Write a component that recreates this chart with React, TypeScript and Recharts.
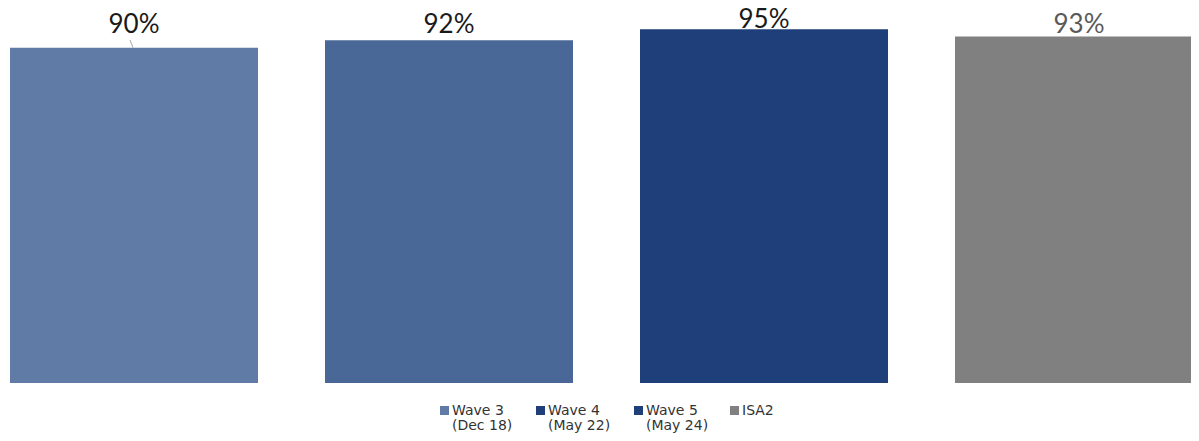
import React from "react";
import { BarChart, Bar, XAxis, YAxis, Legend, LabelList } from "recharts";

const seriesKeys = ["w3", "w4", "w5", "isa2"];
const seriesNames = ["Wave 3\n(Dec 18)", "Wave 4\n(May 22)", "Wave 5\n(May 24)", "ISA2"];
const seriesValues = [90, 92, 95, 93];
const barColors = ["#607ba6", "#4a6897", "#1e3f79", "#808080"];
const legendColors = ["#607ba6", "#1e3f79", "#1e3f79", "#808080"];
const labelColors = ["#1a1a1a", "#1a1a1a", "#1a1a1a", "#595959"];

const row: Record<string, number | string> = { name: "All" };
seriesKeys.forEach((k, i) => {
  row[k] = seriesValues[i];
});
const data = [row];

const makeLabel = (idx: number) => (props: any) => {
  const { x, y, width, value } = props;
  const cx = x + width / 2;
  const baseline = Math.min(y - 1, 25);
  const showLeader = y - baseline > 10;
  return (
    <g>
      {showLeader && (
        <line x1={cx - 4} y1={baseline + 7} x2={cx - 1} y2={y} stroke="#a6a6a6" strokeWidth={1} />
      )}
      <text
        x={cx}
        y={baseline}
        textAnchor="middle"
        fill={labelColors[idx]}
        fontSize={26}
        fontFamily="'Lato', 'DejaVu Sans', sans-serif"
        fontWeight={400}
      >
        {`${value}%`}
      </text>
    </g>
  );
};

const itemWidths = [96, 98, 96, 44];

const renderLegend = () => (
  <div style={{ height: 0, overflow: "visible" }}>
    <div
      style={{
        display: "flex",
        justifyContent: "center",
        paddingLeft: 4,
        fontFamily: "'DejaVu Sans', sans-serif",
        fontSize: 14,
        color: "#333",
        lineHeight: "15px",
      }}
    >
      {seriesNames.map((n, i) => (
        <div key={i} style={{ display: "flex", alignItems: "flex-start", width: itemWidths[i] }}>
          <div
            style={{
              width: 9,
              height: 9,
              background: legendColors[i],
              marginTop: 3,
              marginRight: 3,
              flex: "none",
            }}
          />
          <div style={{ whiteSpace: "pre" }}>{n}</div>
        </div>
      ))}
    </div>
  </div>
);

export default function App() {
  return (
    <div style={{ width: 1196, height: 433, overflow: "visible" }}>
      <BarChart
        width={1196}
        height={433}
        data={data}
        margin={{ top: 2.5, right: 1, bottom: 58, left: 1 }}
        barCategoryGap={0}
        barGap={67}
      >
        <XAxis dataKey="name" hide />
        <YAxis hide domain={[0, 100]} width={0} />
        <Legend
          verticalAlign="bottom"
          content={renderLegend}
          wrapperStyle={{ left: 0, width: 1194, top: 395, bottom: "auto" }}
        />
        {seriesKeys.map((k, i) => (
          <Bar key={k} dataKey={k} name={seriesNames[i]} fill={barColors[i]} barSize={248} isAnimationActive={false}>
            <LabelList dataKey={k} content={makeLabel(i)} />
          </Bar>
        ))}
      </BarChart>
    </div>
  );
}
